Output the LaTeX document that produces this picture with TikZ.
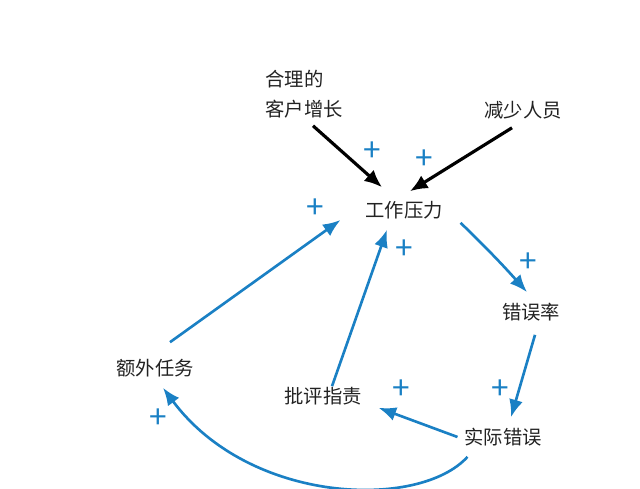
\documentclass[tikz,border=0pt]{standalone}
\usepackage{fontspec}
\newfontfamily\cjk{Noto Sans CJK SC}
\usetikzlibrary{arrows.meta}
\definecolor{loopblue}{RGB}{26,128,196}
\definecolor{txt}{RGB}{34,34,34}
\tikzset{
  var/.style={font=\cjk\fontsize{11}{17}\selectfont,text=txt,inner sep=2pt},
  sign/.style={font=\cjk\fontsize{18}{18}\selectfont,text=loopblue,inner sep=0pt},
  blk/.style={line width=1.8pt,-{Latex[length=10pt,width=8.5pt]}},
  blu/.style={loopblue,line width=1.5pt,-{Latex[length=10pt,width=8pt]}}
}
\begin{document}
\begin{tikzpicture}
\useasboundingbox (0,0) rectangle (12.8,9.76);
% variables
\node[var,align=left] (ctx) at (6.08,7.88) {合理的\\客户增长};
\node[var] (less)   at (10.46,7.56) {减少人员};
\node[var] (stress) at (8.08,5.56)  {工作压力};
\node[var] (rate)   at (10.62,3.52) {错误率};
\node[var] (err)    at (10.06,1.02) {实际错误};
\node[var] (blame)  at (6.46,1.84)  {批评指责};
\node[var] (extra)  at (3.10,2.40)  {额外任务};
% outside causes
\draw[blk] ([xshift=0.18cm,yshift=-0.08cm]ctx.south) --
  ([xshift=-0.44cm,yshift=0.2cm]stress.north);
\draw[blk] ([xshift=-0.22cm,yshift=-0.1cm]less.south) --
  ([xshift=0.12cm,yshift=0.12cm]stress.north);
% loop
\draw[blu] ([xshift=0.28cm]stress.south east) to[bend left=2]
  ([xshift=-0.08cm,yshift=0.14cm]rate.north);
\draw[blu] ([xshift=0.08cm,yshift=-0.2cm]rate.south) --
  ([xshift=0.16cm,yshift=0.14cm]err.north);
\draw[blu] ([xshift=-0.06cm]err.west) --
  ([xshift=0.26cm,yshift=0.02cm]blame.south east);
\draw[blu] ([xshift=0.18cm,yshift=-0.06cm]blame.north) --
  ([xshift=-0.34cm,yshift=-0.14cm]stress.south);
\draw[blu] ([xshift=0.3cm,yshift=0.26cm]extra.north) --
  ([xshift=-0.42cm,yshift=-0.2cm]stress.west);
\draw[blu] ([xshift=0.14cm,yshift=-0.14cm]err.south west)
  .. controls +(-0.96,-1.06) and +(1.74,-2.34) ..
  ([xshift=0.16cm,yshift=-0.14cm]extra.south);
% polarities
\node[sign] (p1) at (7.44,6.72) {+};
\node[sign] (p2) at (8.48,6.56) {+};
\node[sign] (p3) at (6.30,5.58) {+};
\node[sign] (p4) at (8.08,4.76) {+};
\node[sign] (p5) at (10.56,4.50) {+};
\node[sign] (p6) at (8.02,1.96) {+};
\node[sign] (p7) at (10.00,1.96) {+};
\node[sign] (p8) at (3.16,1.38) {+};
\end{tikzpicture}
\end{document}
